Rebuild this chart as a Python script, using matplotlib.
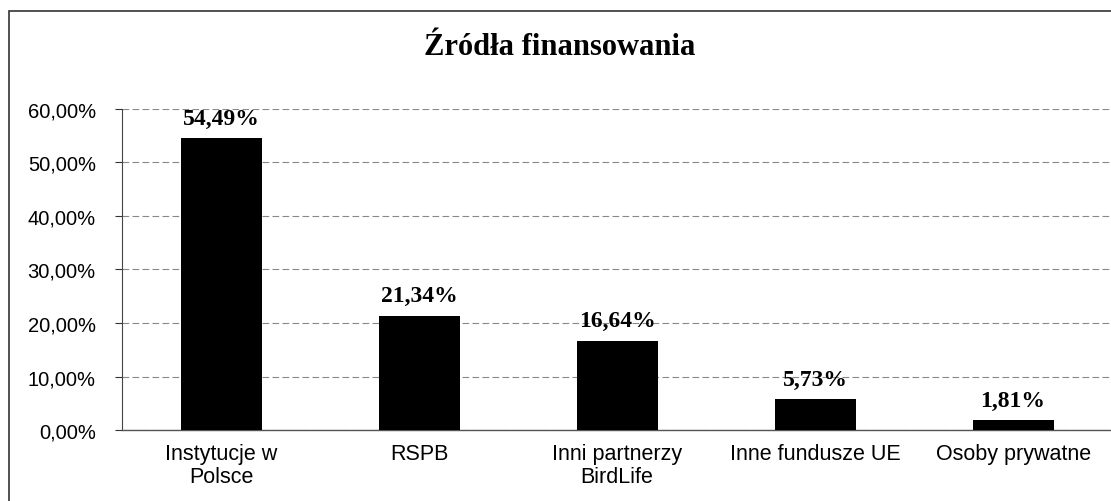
import matplotlib.pyplot as plt
from matplotlib.patches import Rectangle
from matplotlib.ticker import FuncFormatter

categories = ['Instytucje w\nPolsce', 'RSPB', 'Inni partnerzy\nBirdLife',
              'Inne fundusze UE', 'Osoby prywatne']
shares = [54.49, 21.34, 16.64, 5.73, 1.81]
yticks = [0, 10, 20, 30, 40, 50, 60]

fig = plt.figure(figsize=(11.11, 5.02), dpi=100)
ax = fig.add_axes([0.11, 0.1414, 0.891, 0.6396])

# frame of the whole chart (right and bottom edges cut off in the scan)
fig.patches.append(Rectangle((0.008, -0.05), 1.2, 1.026, transform=fig.transFigure,
                             fill=False, edgecolor='#333333', linewidth=1.2))

x = list(range(len(categories)))
ax.bar(x, shares, width=0.41, color='black', zorder=3)

for xi, v in zip(x, shares):
    ax.text(xi, v + 1.8, f'{v:.2f}%'.replace('.', ','), ha='center', va='bottom',
            family='Liberation Serif', fontweight='bold', fontsize=17)

ax.set_xlim(-0.5, 4.5)
ax.set_ylim(0, 60)
ax.set_yticks(yticks)
ax.yaxis.set_major_formatter(FuncFormatter(lambda v, p: f'{v:.2f}%'.replace('.', ',')))
ax.set_xticks(x)
ax.set_xticklabels(categories, linespacing=1.15)
ax.tick_params(axis='x', length=0, pad=9)
ax.tick_params(axis='y', length=5, width=0.8, pad=14, color='#333333')
for lab in ax.get_xticklabels():
    lab.set_family('Liberation Sans')
    lab.set_fontsize(15.5)
for lab in ax.get_yticklabels():
    lab.set_family('Liberation Sans')
    lab.set_fontsize(14.5)

ax.yaxis.grid(True, linestyle=(0, (6, 3)), color='#888888', linewidth=0.8, zorder=0)
for s in ['top', 'right']:
    ax.spines[s].set_visible(False)
ax.spines['left'].set_color('#444444')
ax.spines['left'].set_linewidth(0.8)
ax.spines['bottom'].set_color('#555555')
ax.spines['bottom'].set_linewidth(1.0)

fig.text(0.504, 0.905, 'Źródła finansowania', ha='center', va='center',
         family='Liberation Serif', fontweight='bold', fontsize=22)

fig.savefig('out.png', dpi=100)
